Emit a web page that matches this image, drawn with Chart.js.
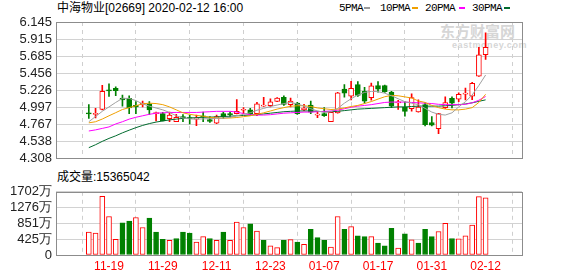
<!DOCTYPE html>
<html>
<head>
<meta charset="utf-8">
<script src="https://cdn.jsdelivr.net/npm/chart.js@4.4.1/dist/chart.umd.min.js"></script>
<style>
  body { margin: 0; background: #fff; width: 578px; height: 276px; overflow: hidden; position: relative;
         font-family: "Liberation Sans", "Noto Sans CJK SC", sans-serif; }
  .txt { position: absolute; white-space: nowrap; line-height: 14px; }
  .leg { position: absolute; white-space: nowrap; font: 11px "Liberation Mono", monospace; letter-spacing: -0.6px; line-height: 12px; color: #000; }
  .sw { position: absolute; width: 6px; height: 2px; }
  #priceBox { position: absolute; left: 0; top: 0; }
  #volBox { position: absolute; left: 0; top: 180px; }
</style>
</head>
<body>
<div class="txt" style="left:440px;top:25px;font-size:15px;font-weight:bold;color:#d6d6d6;">东方财富网</div>
<div class="txt" style="left:452px;top:38px;font-size:9px;font-weight:bold;color:#d6d6d6;letter-spacing:0.6px;">eastmoney.com</div>
<div class="txt" style="left:57px;top:1px;font-size:12px;color:#000;">中海物业[02669] 2020-02-12 16:00</div>
<div class="leg" style="left:339px;top:2px;">5PMA</div><div class="sw" style="left:364px;top:7px;background:#999;"></div>
<div class="leg" style="left:380px;top:2px;">10PMA</div><div class="sw" style="left:412px;top:7px;background:#f0a000;"></div>
<div class="leg" style="left:425px;top:2px;">20PMA</div><div class="sw" style="left:459px;top:7px;background:#ff00ff;"></div>
<div class="leg" style="left:472px;top:2px;">30PMA</div><div class="sw" style="left:504px;top:7px;background:#006b2e;"></div>
<div class="txt" style="left:57px;top:170px;font-size:12px;color:#000;">成交量:15365042</div>
<canvas id="priceBox" width="578" height="170"></canvas>
<canvas id="volBox" width="578" height="96"></canvas>
<script>
// trading days shown (Nov 2019 - Feb 2020)
const dates = ['11-14','11-15','11-18','11-19','11-20','11-21','11-22','11-25','11-26','11-27',
  '11-28','11-29','12-02','12-03','12-04','12-05','12-06','12-09','12-10','12-11',
  '12-12','12-13','12-16','12-17','12-18','12-19','12-20','12-23','12-24','12-27',
  '12-30','12-31','01-02','01-03','01-06','01-07','01-08','01-09','01-10','01-13',
  '01-14','01-15','01-16','01-17','01-20','01-21','01-22','01-23','01-24','01-29',
  '01-30','01-31','02-03','02-04','02-05','02-06','02-07','02-10','02-11','02-12'];
const tickDates = ['11-19','11-29','12-11','12-23','01-07','01-17','01-31','02-12'];

const open = [4.915,4.90,4.965,5.23,5.25,5.12,5.115,5.02,5.03,5.04,
  4.91,4.91,4.84,4.80,4.86,4.85,4.835,4.87,4.83,4.78,
  4.909,4.90,4.91,4.955,4.96,4.91,5.01,5.016,5.075,5.13,
  5.03,5.05,4.96,5.025,4.89,4.91,4.80,4.92,5.24,5.145,
  5.30,5.21,5.125,5.287,5.287,5.20,5.055,4.998,4.975,4.933,
  5.03,4.79,4.707,4.99,5.115,5.104,5.172,5.145,5.415,5.703];
const high = [5.03,4.98,5.29,5.31,5.27,5.16,5.15,5.07,5.08,5.07,
  4.93,4.925,4.93,4.90,4.896,4.888,4.888,4.93,4.87,4.89,
  4.93,4.935,5.10,4.99,4.98,5.06,5.13,5.11,5.125,5.15,
  5.12,5.06,5.035,5.08,4.94,4.99,4.94,5.195,5.30,5.345,
  5.343,5.265,5.32,5.342,5.295,5.21,5.09,5.07,5.175,5.094,
  5.055,4.87,4.912,5.137,5.137,5.188,5.253,5.33,5.802,6.00];
const low = [4.845,4.85,4.96,5.14,5.15,5.01,4.91,4.91,5.00,4.90,
  4.81,4.81,4.80,4.80,4.80,4.77,4.747,4.80,4.79,4.775,
  4.845,4.86,4.905,4.91,4.89,4.88,5.005,5.00,5.07,5.02,
  5.00,4.897,4.95,4.91,4.854,4.87,4.80,4.915,5.13,5.094,
  5.14,5.05,5.09,5.20,5.195,4.99,4.965,4.875,4.943,4.93,
  4.745,4.745,4.638,4.98,4.986,5.072,5.094,5.097,5.41,5.639];
const close = [4.905,4.91,5.21,5.215,5.22,5.093,4.985,5.00,5.05,4.96,
  4.92,4.81,4.888,4.86,4.855,4.843,4.85,4.865,4.805,4.87,
  4.866,4.895,4.94,4.965,4.91,5.04,5.02,5.067,5.12,5.035,
  5.08,4.91,4.985,4.93,4.90,4.88,4.925,5.19,5.185,5.25,
  5.155,5.077,5.285,5.24,5.205,5.01,5.065,4.94,5.124,4.998,
  4.76,4.752,4.91,5.059,5.05,5.171,5.18,5.317,5.703,5.802];

const ma5 = [4.80,4.87,4.94,5.00,5.06,5.115,5.115,5.085,5.04,5.01,
  4.985,4.96,4.925,4.88,4.85,4.838,4.835,4.838,4.842,4.845,
  4.848,4.86,4.88,4.90,4.92,4.955,4.98,5.005,5.025,5.045,
  5.06,5.04,5.01,4.975,4.945,4.925,4.935,4.98,5.05,5.11,
  5.16,5.195,5.21,5.205,5.185,5.15,5.11,5.07,5.05,5.03,
  4.98,4.93,4.90,4.89,4.92,5.00,5.07,5.16,5.29,5.43];
const ma10 = [4.785,4.80,4.836,4.88,4.922,4.965,4.99,5.016,5.042,5.05,
  5.045,5.03,5.00,4.96,4.92,4.90,4.885,4.875,4.86,4.85,
  4.848,4.85,4.857,4.868,4.88,4.90,4.92,4.945,4.97,4.99,
  5.008,5.015,5.016,5.005,4.986,4.975,4.965,4.97,4.986,5.005,
  5.02,5.045,5.072,5.105,5.137,5.155,5.15,5.135,5.12,5.08,
  5.06,5.02,4.99,4.97,4.96,4.96,4.97,4.99,5.06,5.17];
const ma20 = [4.675,4.69,4.71,4.73,4.77,4.80,4.835,4.86,4.88,4.90,
  4.915,4.92,4.925,4.925,4.925,4.925,4.925,4.93,4.935,4.94,
  4.94,4.94,4.93,4.91,4.895,4.89,4.89,4.895,4.905,4.915,
  4.92,4.925,4.93,4.93,4.935,4.94,4.945,4.955,4.975,4.995,
  5.01,5.02,5.03,5.045,5.06,5.065,5.065,5.065,5.06,5.055,
  5.05,5.045,5.035,5.03,5.03,5.03,5.035,5.055,5.09,5.14];
const ma30 = [4.45,4.49,4.535,4.575,4.61,4.65,4.686,4.72,4.75,4.775,
  4.795,4.81,4.825,4.835,4.845,4.85,4.855,4.86,4.862,4.865,
  4.87,4.875,4.88,4.885,4.89,4.895,4.905,4.915,4.925,4.935,
  4.94,4.945,4.945,4.945,4.94,4.935,4.935,4.94,4.95,4.96,
  4.97,4.975,4.98,4.985,4.99,4.995,5.00,5.00,5.005,5.01,
  5.01,5.01,5.01,5.015,5.02,5.03,5.04,5.055,5.075,5.095];

// volume in 万 shares; 1 = up day (red), 0 = down day (green)
const volume = [617,592,1578,1036,419,863,912,1011,740,995,
  617,419,395,444,617,592,345,493,444,395,
  617,395,888,740,838,641,395,247,197,395,
  415,345,288,690,469,395,214,1036,690,764,
  518,493,493,321,247,715,189,567,411,321,
  690,493,633,855,444,436,518,806,1570,1536.5];
const volUp = [1,1,1,1,1,0,0,1,1,0,
  0,0,1,0,0,0,1,1,0,1,
  0,1,1,1,0,1,0,1,1,0,
  1,0,1,0,0,0,1,1,0,1,
  0,0,1,0,0,0,1,0,1,0,
  0,0,1,1,0,1,1,1,1,1];

const priceTicks = [4.308,4.538,4.767,4.997,5.226,5.456,5.685,5.915,6.145];
const volTicks = [0,425,851,1276,1702];

const RED = '#ff0000', GREEN = '#008000';
const tickIdx = tickDates.map(d => dates.indexOf(d));
const xMin = -0.55, xMax = 60.08;
const labelFont = { family: 'Liberation Sans', size: 13 };

const frame = {
  id: 'frame',
  afterDraw(chart) {
    const { ctx, chartArea: a } = chart;
    ctx.save();
    ctx.strokeStyle = '#8c8c8c';
    ctx.lineWidth = 1;
    ctx.strokeRect(Math.round(a.left) + 0.5, Math.round(a.top) + 0.5,
      Math.round(a.right - a.left), Math.round(a.bottom - a.top));
    ctx.restore();
  }
};

function xScale(showLabels) {
  return {
    type: 'linear', min: xMin, max: xMax,
    afterBuildTicks: s => { s.ticks = tickIdx.map(v => ({ value: v })); },
    afterFit: s => { s.height = showLabels ? 21 : 0; },
    ticks: { display: showLabels, autoSkip: false, maxRotation: 0, padding: 4, color: RED,
             font: { family: 'Liberation Sans', size: 12 }, callback: v => dates[v] },
    grid: { color: '#cfcfcf', drawTicks: false },
    border: { display: false, dash: [4, 4] }
  };
}

function yScale(min, max, ticks, fmt) {
  return {
    min, max,
    afterBuildTicks: s => { s.ticks = ticks.map(v => ({ value: v })); },
    afterFit: s => { s.width = 56; },
    ticks: { font: labelFont, color: '#222', padding: 4, autoSkip: false, callback: fmt },
    grid: { color: '#d2d2d2', drawTicks: false },
    border: { display: false }
  };
}

const up = i => close[i] >= open[i];

new Chart(document.getElementById('priceBox'), {
  type: 'bar',
  data: {
    datasets: [
      { type: 'line', data: ma5.map((v, i) => ({ x: i, y: v })), borderColor: '#a0a0a0', borderWidth: 1, pointRadius: 0, order: 0 },
      { type: 'line', data: ma10.map((v, i) => ({ x: i, y: v })), borderColor: '#f0a000', borderWidth: 1, pointRadius: 0, order: 0 },
      { type: 'line', data: ma20.map((v, i) => ({ x: i, y: v })), borderColor: '#ff00ff', borderWidth: 1, pointRadius: 0, order: 0 },
      { type: 'line', data: ma30.map((v, i) => ({ x: i, y: v })), borderColor: '#006b2e', borderWidth: 1, pointRadius: 0, order: 0 },
      {
        data: dates.map((d, i) => ({ x: i, y: [open[i], close[i]] })),
        backgroundColor: dates.map((d, i) => up(i) ? '#ffffff' : GREEN),
        borderColor: dates.map((d, i) => up(i) ? RED : GREEN),
        borderWidth: 1, borderSkipped: false, barThickness: 5, minBarLength: 1, grouped: false, order: 1
      },
      {
        data: dates.map((d, i) => ({ x: i, y: [low[i], high[i]] })),
        backgroundColor: dates.map((d, i) => up(i) ? RED : GREEN),
        borderWidth: 0, barThickness: 1, grouped: false, order: 2
      }
    ]
  },
  options: {
    responsive: false, animation: false,
    layout: { padding: { top: 22, bottom: 5, left: 0, right: 56 } },
    plugins: { legend: { display: false }, tooltip: { enabled: false } },
    scales: {
      x: xScale(false),
      y: yScale(4.308, 6.145, priceTicks, v => v.toFixed(3))
    }
  },
  plugins: [frame]
});

new Chart(document.getElementById('volBox'), {
  type: 'bar',
  data: {
    datasets: [{
      data: volume.map((v, i) => ({ x: i, y: v })),
      backgroundColor: volUp.map(u => u ? '#ffffff' : GREEN),
      borderColor: volUp.map(u => u ? RED : GREEN),
      borderWidth: 1, borderSkipped: false, barThickness: 5
    }]
  },
  options: {
    responsive: false, animation: false,
    layout: { padding: { top: 6, bottom: 0, left: 0, right: 56 } },
    plugins: { legend: { display: false }, tooltip: { enabled: false } },
    scales: {
      x: xScale(true),
      y: yScale(0, 1702, volTicks, v => v === 0 ? '0' : v + '万')
    }
  },
  plugins: [frame]
});
</script>
</body>
</html>
